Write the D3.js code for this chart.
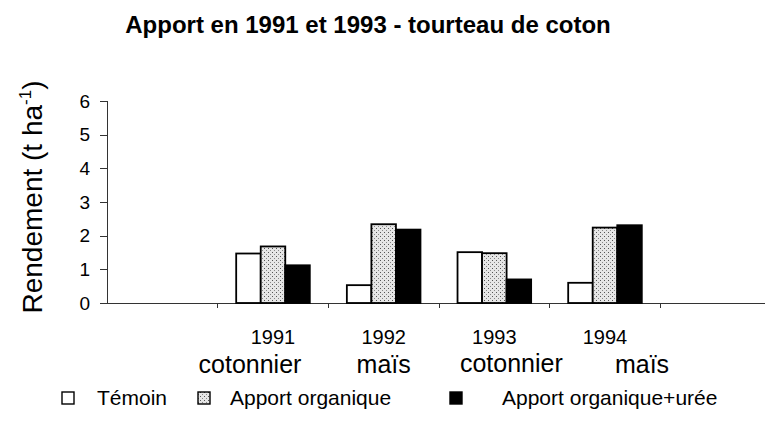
<!DOCTYPE html>
<meta charset="utf-8">
<head>
<style>
  body { margin: 0; background: #fff; }
  text { font-family: "Liberation Sans", Arial, sans-serif; fill: #000; }
  .axis path, .axis line { fill: none; stroke: #333; shape-rendering: crispEdges; }
</style>
</head>
<body>
<script src="https://cdn.jsdelivr.net/npm/d3@7"></script>
<script>
var categories = ["", "1991", "1992", "1993", "1994", " "];
var crops = ["", "cotonnier", "maïs", "cotonnier", "maïs", ""];
var series = ["Témoin", "Apport organique", "Apport organique+urée"];
var temoin = [null, 1.47, 0.53, 1.51, 0.60, null];
var organique = [null, 1.68, 2.34, 1.48, 2.24, null];
var organiqueUree = [null, 1.12, 2.18, 0.70, 2.31, null];
var yTicks = [0, 1, 2, 3, 4, 5, 6];

var w = 765, h = 428;
var svg = d3.select("body").append("svg").attr("width", w).attr("height", h);

// stippled fill like the scan
var defs = svg.append("defs");
var pat = defs.append("pattern").attr("id", "dots")
    .attr("patternUnits", "userSpaceOnUse").attr("width", 4).attr("height", 4);
pat.append("rect").attr("width", 4).attr("height", 4).attr("fill", "#e6e6e6");
pat.append("rect").attr("x", 0).attr("y", 0).attr("width", 1).attr("height", 1).attr("fill", "#555");
pat.append("rect").attr("x", 2).attr("y", 2).attr("width", 1).attr("height", 1).attr("fill", "#888");

var fills = ["#fff", "url(#dots)", "#000"];

var x = d3.scaleBand().domain(d3.range(categories.length)).range([107, 771]);
var inner = d3.scaleBand().domain(d3.range(series.length)).range([0, x.bandwidth()]).paddingOuter(0.755);
var y = d3.scaleLinear().domain([0, 6]).range([303, 101]);

svg.append("text").attr("x", 368).attr("y", 33).attr("text-anchor", "middle")
    .style("font-size", "24px").style("font-weight", "bold")
    .text("Apport en 1991 et 1993 - tourteau de coton");

// y axis
var yAxis = svg.append("g").attr("class", "axis").attr("transform", "translate(107,0)")
    .call(d3.axisLeft(y).tickValues(yTicks).tickFormat(d3.format("d"))
        .tickSize(7).tickPadding(10).tickSizeOuter(7));
yAxis.selectAll("text").style("font-size", "19px").attr("fill", "#000");

// x axis with ticks at band edges
var xg = svg.append("g").attr("class", "axis");
xg.append("line").attr("x1", 107).attr("x2", 771).attr("y1", y(0)).attr("y2", y(0));
xg.selectAll("line.tk").data(d3.range(1, categories.length)).enter().append("line")
    .attr("class", "tk")
    .attr("x1", function(i) { return x(i); }).attr("x2", function(i) { return x(i); })
    .attr("y1", y(0)).attr("y2", y(0) + 5);

var allSeries = [temoin, organique, organiqueUree];
allSeries.forEach(function(vals, s) {
    svg.selectAll("rect.s" + s)
        .data(vals.map(function(v, i) { return {v: v, i: i}; }).filter(function(d) { return d.v != null; }))
        .enter().append("rect")
        .attr("x", function(d) { return x(d.i) + inner(s); })
        .attr("y", function(d) { return y(d.v); })
        .attr("width", inner.bandwidth())
        .attr("height", function(d) { return y(0) - y(d.v); })
        .attr("fill", fills[s])
        .attr("stroke", "#000").attr("stroke-width", 1.8);
});

// category labels
var cropShift = [0, -23, 0, 17, 37, 0];
var cropDy = [0, 0, 0, -1, 0, 0];
categories.forEach(function(c, i) {
    if (!crops[i]) return;
    var cx = x(i) + x.bandwidth() / 2;
    svg.append("text").attr("x", cx).attr("y", 344).attr("text-anchor", "middle")
        .style("font-size", "20px").text(c);
    svg.append("text").attr("x", cx + cropShift[i]).attr("y", 373 + cropDy[i]).attr("text-anchor", "middle")
        .style("font-size", "25px").text(crops[i]);
});

// y label
svg.append("text").attr("transform", "translate(42,197) rotate(-90)").attr("text-anchor", "middle")
    .style("font-size", "28px")
    .text("Rendement (t ha")
    .append("tspan").attr("dy", -11).style("font-size", "17px").text("-1")
    .select(function() { return this.parentNode; })
    .append("tspan").attr("dy", 11).style("font-size", "28px").text(")");

// legend
var legX = [62, 198, 450], legTx = [97, 230, 502];
series.forEach(function(s, i) {
    svg.append("rect").attr("x", legX[i]).attr("y", 392).attr("width", 12).attr("height", 12)
        .attr("fill", fills[i]).attr("stroke", "#000").attr("stroke-width", 1.4);
    svg.append("text").attr("x", legTx[i]).attr("y", 405).style("font-size", "21px").text(s);
});
</script>
</body>
